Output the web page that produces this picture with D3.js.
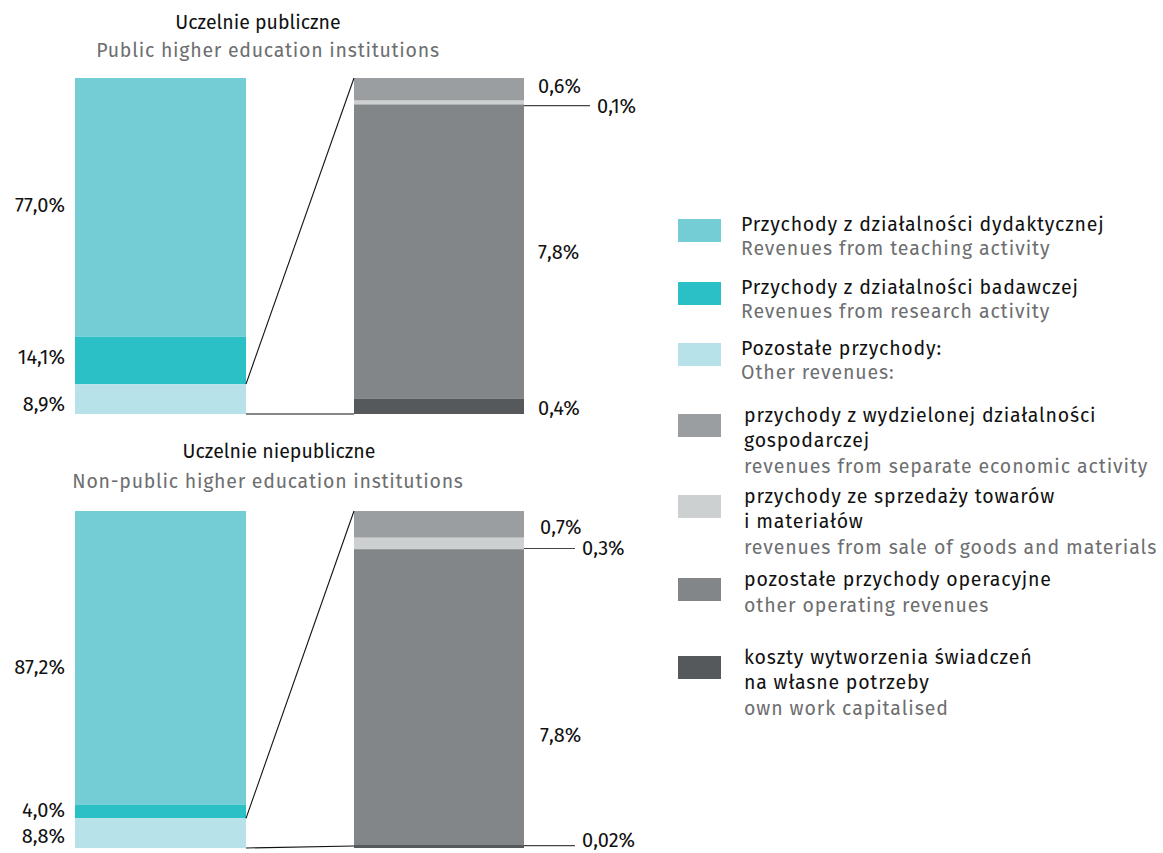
<!DOCTYPE html>
<html><head><meta charset="utf-8">
<script src="https://cdn.jsdelivr.net/npm/d3@7"></script>
<style>
body{margin:0;background:#fff;}
text{font-family:"Fira Sans","Noto Sans",sans-serif;}
</style></head>
<body><svg id="chart" width="1163" height="853"></svg>
<script>
// ---- data ----
const panels = ["Uczelnie publiczne", "Uczelnie niepubliczne"];
const panelsEn = ["Public higher education institutions", "Non-public higher education institutions"];
const mainKeys = ["teaching", "research", "other"];
const subKeys = ["separate", "goods", "operating", "ownwork"];
const mainValues = [[77.0, 14.1, 8.9], [87.2, 4.0, 8.8]];
const subValues = [[0.6, 0.1, 7.8, 0.4], [0.7, 0.3, 7.8, 0.02]];
const mainLabels = [["77,0%", "14,1%", "8,9%"], ["87,2%", "4,0%", "8,8%"]];
const subLabels = [["0,6%", "0,1%", "7,8%", "0,4%"], ["0,7%", "0,3%", "7,8%", "0,02%"]];
const legendPl = [
  ["Przychody z działalności dydaktycznej"],
  ["Przychody z działalności badawczej"],
  ["Pozostałe przychody:"],
  ["przychody z wydzielonej działalności", "gospodarczej"],
  ["przychody ze sprzedaży towarów", "i materiałów"],
  ["pozostałe przychody operacyjne"],
  ["koszty wytworzenia świadczeń", "na własne potrzeby"]
];
const legendEn = [
  "Revenues from teaching activity",
  "Revenues from research activity",
  "Other revenues:",
  "revenues from separate economic activity",
  "revenues from sale of goods and materials",
  "other operating revenues",
  "own work capitalised"
];

// ---- styles/layout ----
const colors = {
  teaching: "#74cdd4", research: "#2bbfc6", other: "#b8e2e9",
  separate: "#9b9ea0", goods: "#cdd0d0", operating: "#828688", ownwork: "#55595b"
};
const legendKeys = ["teaching","research","other","separate","goods","operating","ownwork"];
const GRAY = "#6d6e70", BLACK = "#111";
const svg = d3.select("#chart");
const panelLayout = [
  {top: 78, bottom: 414, titleY: 29, subY: 57, titleX: 258, subX: 268},
  {top: 511, bottom: 848, titleY: 458, subY: 488, titleX: 279, subX: 268}
];
const leftX = [75, 246], rightX = [354, 524];
const subLabelOpts = [
  [{x:538, dy:-3}, {x:597, leader:[524,590], dy:3}, {x:538, dy:0}, {x:538, dy:1.5}],
  [{x:540, dy:3}, {x:582, leader:[524,575], dy:5}, {x:540, dy:37}, {x:582, leader:[524,575], dy:-2, tdy:-6}]
];
const mainLabelDy = [[-2, -3.5, 5], [9, -1.5, 3]];

panels.forEach((title, p) => {
  const L = panelLayout[p];
  const g = svg.append("g");
  g.append("text").attr("x", L.titleX).attr("y", L.titleY).attr("text-anchor","middle")
    .attr("font-size", 19.5).attr("fill", BLACK).text(title);
  g.append("text").attr("x", L.subX).attr("y", L.subY).attr("text-anchor","middle")
    .attr("font-size", 19.5).attr("letter-spacing", 0.75).attr("fill", GRAY).text(panelsEn[p]);

  // main bar
  const mv = mainValues[p];
  const mTotal = d3.sum(mv);
  const yM = d3.scaleLinear().domain([0, mTotal]).range([L.top, L.bottom]);
  const mStack = d3.stack().keys(mainKeys)([Object.fromEntries(mainKeys.map((k,i)=>[k,mv[i]]))]);
  g.selectAll(".mseg").data(mStack).join("rect")
    .attr("x", leftX[0]).attr("width", leftX[1]-leftX[0])
    .attr("y", d => yM(d[0][0])).attr("height", d => yM(d[0][1]) - yM(d[0][0]))
    .attr("fill", d => colors[d.key]);
  g.selectAll(".mlab").data(mStack).join("text")
    .attr("x", 65).attr("text-anchor","end").attr("font-size", 20).attr("fill", BLACK)
    .attr("y", (d,i) => (yM(d[0][0]) + yM(d[0][1]))/2 + 7 + mainLabelDy[p][i])
    .text((d,i) => mainLabels[p][i]);

  // sub bar
  const sv = subValues[p];
  const sTotal = d3.sum(sv);
  const yS = d3.scaleLinear().domain([0, sTotal]).range([L.top, L.bottom]);
  const sStack = d3.stack().keys(subKeys)([Object.fromEntries(subKeys.map((k,i)=>[k,sv[i]]))]);
  g.selectAll(".sseg").data(sStack).join("rect")
    .attr("x", rightX[0]).attr("width", rightX[1]-rightX[0])
    .attr("y", d => Math.min(yS(d[0][0]), L.bottom - 3))
    .attr("height", d => Math.max(3, yS(d[0][1]) - yS(d[0][0])))
    .attr("fill", d => colors[d.key]);

  sStack.forEach((d, i) => {
    const o = subLabelOpts[p][i];
    const cy = (yS(d[0][0]) + yS(d[0][1]))/2 + (o.dy||0);
    if (o.leader) {
      g.append("line").attr("x1", o.leader[0]).attr("x2", o.leader[1])
        .attr("y1", cy).attr("y2", cy).attr("stroke", "#444").attr("stroke-width", 1.2);
    }
    g.append("text").attr("x", o.x).attr("y", cy + 7 + (o.tdy||0))
      .attr("font-size", 20).attr("fill", BLACK).text(subLabels[p][i]);
  });

  // connectors
  const otherTop = yM(mTotal - mv[2]);
  g.append("line").attr("x1", leftX[1]).attr("y1", otherTop).attr("x2", rightX[0]).attr("y2", L.top)
    .attr("stroke", "#111").attr("stroke-width", 1.1);
  g.append("line").attr("x1", leftX[1]).attr("y1", L.bottom).attr("x2", rightX[0]).attr("y2", L.bottom - (p ? 2 : 0))
    .attr("stroke", "#111").attr("stroke-width", 1.1);
});

// legend
const legendY = [219, 282, 343, 414, 495, 578, 656];
const lg = svg.append("g");
legendKeys.forEach((k, i) => {
  const y0 = legendY[i];
  lg.append("rect").attr("x", 678).attr("y", y0).attr("width", 43).attr("height", 23).attr("fill", colors[k]);
  const tx = i < 3 ? 741 : 744;
  const ty = y0 + (i < 3 ? 12 : 8);
  legendPl[i].forEach((line, j) => {
    lg.append("text").attr("x", tx).attr("y", ty + j*24.5).attr("font-size", 19.5)
      .attr("letter-spacing", 0.8).attr("fill", BLACK).text(line);
  });
  const ny = ty + (legendPl[i].length - 1)*24.5 + (i < 3 ? 23.5 : 26);
  lg.append("text").attr("x", tx).attr("y", ny).attr("font-size", 19.5)
    .attr("letter-spacing", 0.9).attr("fill", GRAY).text(legendEn[i]);
});
</script></body></html>
